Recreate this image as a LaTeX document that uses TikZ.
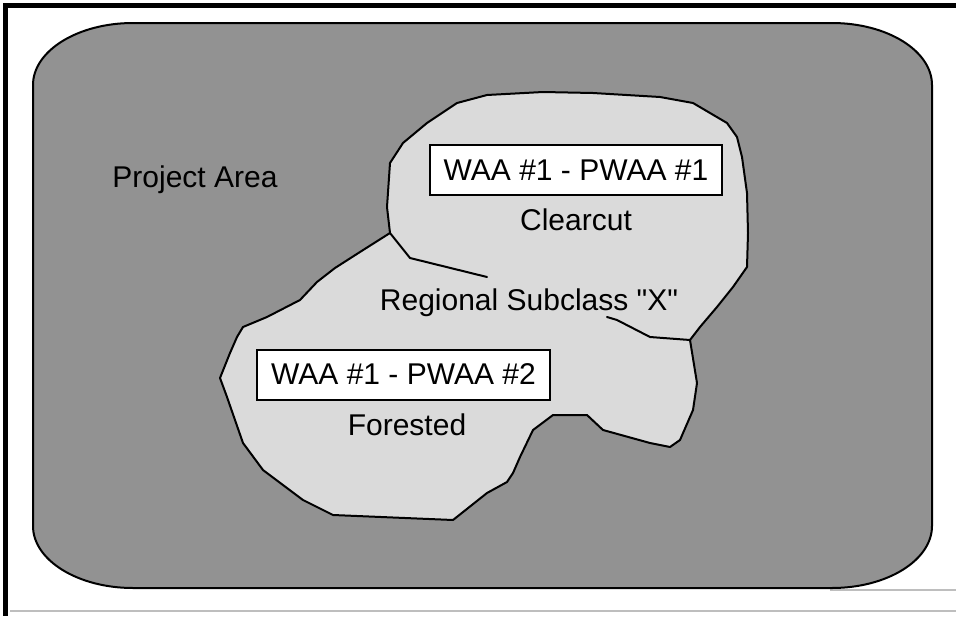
\documentclass[tikz,border=0pt]{standalone}
\usepackage{fontspec}
\newfontfamily\labelfont{Liberation Sans}
\definecolor{areagray}{RGB}{146,146,146}
\definecolor{blobgray}{RGB}{218,218,218}
\definecolor{scanline}{RGB}{190,190,190}
\tikzset{
  lbl/.style={font=\labelfont\fontsize{30}{36}\selectfont, inner sep=0pt, anchor=base},
  waabox/.style={draw=black, line width=2pt, fill=white, inner sep=0pt,
     minimum height=50, font=\labelfont\fontsize{30}{36}\selectfont},
  edge/.style={draw=black, line width=2pt, line join=round, line cap=round},
}
\begin{document}
\begin{tikzpicture}[x=1pt,y=-1pt]
\useasboundingbox (0,0) rectangle (956,616);
\fill[white] (0,0) rectangle (956,616);
% page frame
\draw[black, line width=5pt] (3,5.5) -- (956,5.5);
\draw[black, line width=5pt] (5.5,3) -- (5.5,616);
\draw[scanline, line width=1.5pt] (10,611) -- (956,611);
\draw[scanline, line width=1.2pt] (830,590) -- (956,590);
% project area: rounded rectangle with elliptical corners
\path[edge, fill=areagray]
  (133,23) -- (832,23)
  .. controls (887.2,23) and (932,50.8) .. (932,85)
  -- (932,526)
  .. controls (932,560.2) and (887.2,588) .. (832,588)
  -- (133,588)
  .. controls (77.8,588) and (33,560.2) .. (33,526)
  -- (33,85)
  .. controls (33,50.8) and (77.8,23) .. (133,23) -- cycle;
% regional subclass blob
\path[edge, fill=blobgray]
  (390,233) -- (387,207) -- (390,163) -- (403,143) -- (427,123) -- (457,103)
  -- (487,95) -- (543,92) -- (593,93) -- (660,97) -- (693,103) -- (710,113)
  -- (727,123) -- (737,137) -- (742,157) -- (747,193) -- (748,233) -- (747,267)
  -- (733,287) -- (717,307) -- (700,327) -- (690,340) -- (697,383) -- (693,410)
  -- (680,440) -- (670,447) -- (650,443) -- (603,430) -- (587,415) -- (553,415)
  -- (533,430) -- (520,457) -- (513,473) -- (507,482) -- (487,493) -- (453,520)
  -- (333,515) -- (303,500) -- (263,470) -- (243,443) -- (227,397) -- (220,378)
  -- (230,353) -- (237,337) -- (243,327) -- (267,317) -- (300,300) -- (317,282)
  -- (335,268) -- (360,252) -- cycle;
% internal boundaries between the two PWAAs
\coordinate (jl) at (390,233);
\coordinate (jlend) at (487,277);
\coordinate (jr) at (690,340);
\coordinate (jrend) at (607,317);
\draw[edge] (jl) -- (410,258) -- (jlend);
\draw[edge] (jr) -- (650,337) -- (617,320) -- (jrend);
% labels
\node[lbl] (project) at (195,187) {Project Area};
\node[waabox, minimum width=292] (pwaa1) at (576,170) {WAA \#1 - PWAA \#1};
\node[lbl] (clearcut) at (576,230) {Clearcut};
\node[lbl] (subclass) at (529,310) {Regional Subclass "X"};
\node[waabox, minimum width=293] (pwaa2) at (403.5,374.5) {WAA \#1 - PWAA \#2};
\node[lbl] (forested) at (407,435) {Forested};
\end{tikzpicture}
\end{document}
